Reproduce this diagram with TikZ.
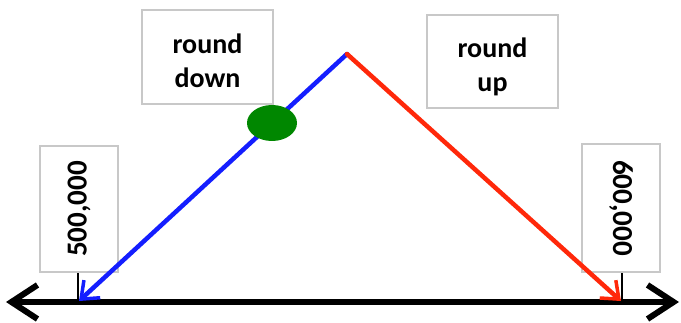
\documentclass[tikz,border=0pt]{standalone}
\usepackage{fontspec}
\setmainfont{Carlito}
\usetikzlibrary{arrows.meta,shapes.geometric}
\definecolor{boxgray}{RGB}{200,200,200}
\definecolor{lineblue}{RGB}{20,30,255}
\definecolor{linered}{RGB}{255,40,10}
\definecolor{dotgreen}{RGB}{0,135,0}
\tikzset{
  labelbox/.style={draw=boxgray, line width=2pt, fill=white, inner sep=0pt},
  boxtext/.style={inner sep=0pt, font=\fontsize{28}{34}\selectfont\bfseries, align=center},
  numtext/.style={font=\fontsize{29}{33}\selectfont\bfseries},
  slope/.style={line width=4.5pt, -{Straight Barb[length=15pt,width=24pt,line width=3.5pt]}},
  axis/.style={line width=6pt, {Straight Barb[length=26pt,width=34pt,line width=6pt]}-{Straight Barb[length=26pt,width=34pt,line width=6pt]}},
  tick/.style={line width=1.8pt}
}
\begin{document}
\begin{tikzpicture}[x=1pt,y=1pt]
\useasboundingbox (0,0) rectangle (681,322);
% axis
\coordinate (axl) at (6,20);
\coordinate (axr) at (679,20);
\draw[axis] (axl) -- (axr);
% ticks
\coordinate (t1b) at (78,20);
\coordinate (t2b) at (622,20);
\node[labelbox, minimum width=78pt, minimum height=126pt] (b500) at (79,113) {};
\node[rotate=90, numtext] (l500) at (b500.center) {500,000};
\node[labelbox, minimum width=78pt, minimum height=128pt] (b600) at (621,114) {};
\node[rotate=-90, numtext] (l600) at (b600.center) {600,000};
\draw[tick] (t1b) -- (t1b |- b500.south);
\draw[tick] (t2b) -- (t2b |- b600.south);
% top boxes
\node[labelbox, minimum width=131pt, minimum height=94pt] (rd) at (207.5,265) {};
\node[boxtext] (rdt) at ([yshift=-4pt]rd.center) {round\\down};
\node[labelbox, minimum width=131pt, minimum height=93pt] (ru) at (492.5,260.5) {};
\node[boxtext] (rut) at ([yshift=-5pt]ru.center) {round\\up};
% slopes
\coordinate (apex) at (347,268);
\coordinate (lt) at (79,21);
\coordinate (rt) at (621,21);
\draw[slope, draw=lineblue, line cap=round] (apex) -- (lt);
\draw[slope, draw=linered, line cap=round] (apex) -- (rt);
% green dot
\node[ellipse, fill=dotgreen, minimum width=50pt, minimum height=36pt, inner sep=0pt] (dot) at (272,199) {};
\end{tikzpicture}
\end{document}
